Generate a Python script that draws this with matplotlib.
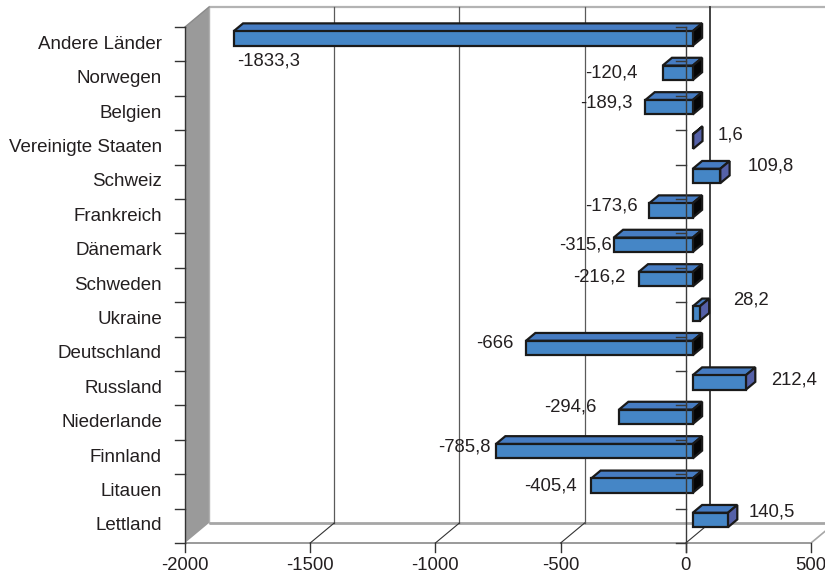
import matplotlib
matplotlib.use("Agg")
import matplotlib.pyplot as plt
from matplotlib.patches import Polygon

plt.rcParams['font.family'] = ['Liberation Sans', 'DejaVu Sans']

# ---- data (top to bottom) ----
countries = ["Andere Länder", "Norwegen", "Belgien", "Vereinigte Staaten", "Schweiz",
             "Frankreich", "Dänemark", "Schweden", "Ukraine", "Deutschland",
             "Russland", "Niederlande", "Finnland", "Litauen", "Lettland"]
values = [-1833.3, -120.4, -189.3, 1.6, 109.8, -173.6, -315.6, -216.2, 28.2,
          -666, 212.4, -294.6, -785.8, -405.4, 140.5]
x_ticks = [-2000, -1500, -1000, -500, 0, 500]

# label placement relative to the bar end (pixels: gap from bar end, vertical shift)
label_gap = [3, 25, 13, 24, 27, 12, 2, 13, 33, 12, 25, 22, 5, 14, 21]
label_dy = [-23, 0, 4, 7, 10, 4, 0, 2, 14, 4, 2, 10, 4, 0, 8]

# ---- layout of the pseudo-3D frame ----
W, H = 825, 577
X0_PX, X1_PX = 185, 811          # front plane: -2000 .. 500
FLOOR_PX, TOP_PX = 543, 27        # front plane: bottom .. top
XMIN, XMAX = x_ticks[0], x_ticks[-1]
n = len(countries)
sx = (X1_PX - X0_PX) / (XMAX - XMIN)
sy = (FLOOR_PX - TOP_PX) / n
DX = 24 / sx                      # depth offset in value units
DY = 20 / sy                      # depth offset in category units
F0, F1 = 0.29, 0.68               # bar depth (fraction of frame depth)
HALF = 0.21                       # half bar height (category units)

fig = plt.figure(figsize=(W / 100, H / 100), dpi=100)
ax = fig.add_axes([0, 0, 1, 1])
ax.set_xlim(XMIN - X0_PX / sx, XMIN + (W - X0_PX) / sx)
ax.set_ylim(-(H - FLOOR_PX) / sy, FLOOR_PX / sy)
ax.axis('off')


def P(v, c, f):
    return (v + f * DX, c + f * DY)


text_color = '#231f20'
edge = '#1a1a1a'
FS_CAT = 13.5
FS_VAL = 13.3

# back wall
ax.add_patch(Polygon([P(XMIN, 0, 1), P(XMAX, 0, 1), P(XMAX, n, 1), P(XMIN, n, 1)],
                     closed=True, facecolor='white', edgecolor='none', zorder=1))
ax.plot([P(XMIN, n, 1)[0], P(XMAX, n, 1)[0]], [P(XMIN, n, 1)[1]] * 2,
        color='#b3b3b3', lw=1.6, zorder=2, solid_capstyle='butt')

# left wall
ax.add_patch(Polygon([P(XMIN, 0, 0), P(XMIN, n, 0), P(XMIN, n, 1), P(XMIN, 0, 1)],
                     closed=True, facecolor='#9a9a9a', edgecolor='none', zorder=2))
ax.plot([P(XMIN, 0, 1)[0], P(XMIN, n, 1)[0]], [P(XMIN, 0, 1)[1], P(XMIN, n, 1)[1]],
        color='#b0b0b0', lw=1.0, zorder=2)
ax.plot([P(XMIN, n, 0)[0], P(XMIN, n, 1)[0]], [P(XMIN, n, 0)[1], P(XMIN, n, 1)[1]],
        color='#8a8a8a', lw=1.0, zorder=2)

# floor
ax.plot([P(XMIN, 0, 1)[0], P(XMAX, 0, 1)[0] + DX], [P(XMIN, 0, 1)[1]] * 2,
        color='#a6a6a6', lw=2.0, zorder=2, solid_capstyle='butt')
ax.plot([P(XMIN, 0, 0)[0], P(XMAX, 0, 0)[0]], [0, 0],
        color='#9a9a9a', lw=1.4, zorder=2, solid_capstyle='butt')

# gridlines on back wall and floor
for v in x_ticks[1:]:
    if v < XMAX:
        col, lw = ('#333333', 1.3) if v == 0 else ('#5a5a5a', 0.9)
        ax.plot([P(v, 0, 1)[0], P(v, n, 1)[0]], [P(v, 0, 1)[1], P(v, n, 1)[1]],
                color=col, lw=lw, zorder=3)
        ax.plot([P(v, 0, 0)[0], P(v, 0, 1)[0]], [P(v, 0, 0)[1], P(v, 0, 1)[1]],
                color='#333333', lw=0.8, zorder=3)
    else:
        ax.plot([P(v, 0, 0)[0], P(v, 0, 1)[0]], [P(v, 0, 0)[1], P(v, 0, 1)[1]],
                color='#a6a6a6', lw=1.2, zorder=3)

# left axis line and category ticks
tick_len_v = 10 / sx
tick_len_c = 9 / sy
ax.plot([XMIN, XMIN], [0, n], color='#333333', lw=1.0, zorder=4)
for k in range(n + 1):
    ax.plot([XMIN - tick_len_v, XMIN], [k, k], color='#333333', lw=1.0, zorder=4)

# bottom ticks and labels
for v in x_ticks:
    ax.plot([v, v], [0, -tick_len_c], color='#333333', lw=1.0, zorder=4)
    ax.annotate(f"{v}", (v, 0), xytext=(0, -23), textcoords='offset pixels',
                ha='center', va='center', fontsize=FS_VAL, color=text_color,
                annotation_clip=False)

# category labels
for i, name in enumerate(countries):
    c = n - 0.5 - i
    ax.annotate(name, (XMIN, c), xytext=(-23, 0), textcoords='offset pixels',
                ha='right', va='center', fontsize=FS_CAT, color=text_color)

# bars
front_col = '#4586c6'
top_col = '#467cc2'
side_pos = '#5561a8'
side_neg = '#050505'
for i, v in enumerate(values):
    c = n - 0.5 - i
    lo, hi = min(0, v), max(0, v)
    top = [P(lo, c + HALF, F0), P(hi, c + HALF, F0), P(hi, c + HALF, F1), P(lo, c + HALF, F1)]
    side = [P(hi, c - HALF, F0), P(hi, c + HALF, F0), P(hi, c + HALF, F1), P(hi, c - HALF, F1)]
    front = [P(lo, c - HALF, F0), P(hi, c - HALF, F0), P(hi, c + HALF, F0), P(lo, c + HALF, F0)]
    ax.add_patch(Polygon(top, closed=True, facecolor=top_col, edgecolor=edge, lw=1.6,
                         joinstyle='miter', zorder=5))
    ax.add_patch(Polygon(side, closed=True, facecolor=side_pos if v > 0 else side_neg,
                         edgecolor=edge, lw=1.6, joinstyle='miter', zorder=5))
    ax.add_patch(Polygon(front, closed=True, facecolor=front_col, edgecolor=edge, lw=1.6,
                         joinstyle='miter', zorder=5))

    # value label
    label = f"{v:g}".replace('.', ',')
    end = P(v, c, F0)
    if i == 0:
        ax.annotate(label, end, xytext=(label_gap[i], label_dy[i]), textcoords='offset pixels',
                    ha='left', va='center', fontsize=FS_VAL, color=text_color, zorder=7)
    elif v < 0:
        ax.annotate(label, end, xytext=(-label_gap[i], label_dy[i]), textcoords='offset pixels',
                    ha='right', va='center', fontsize=FS_VAL, color=text_color, zorder=7)
    else:
        ax.annotate(label, end, xytext=(label_gap[i], label_dy[i]), textcoords='offset pixels',
                    ha='left', va='center', fontsize=FS_VAL, color=text_color, zorder=7)

# category axis at zero, drawn over the bars
ax.plot([0, 0], [-tick_len_c, n], color='#3a3a3a', lw=1.0, zorder=6)
for k in range(n + 1):
    ax.plot([-tick_len_v, 0], [k, k], color='#3a3a3a', lw=1.0, zorder=6)

fig.savefig('out.png', dpi=100)
